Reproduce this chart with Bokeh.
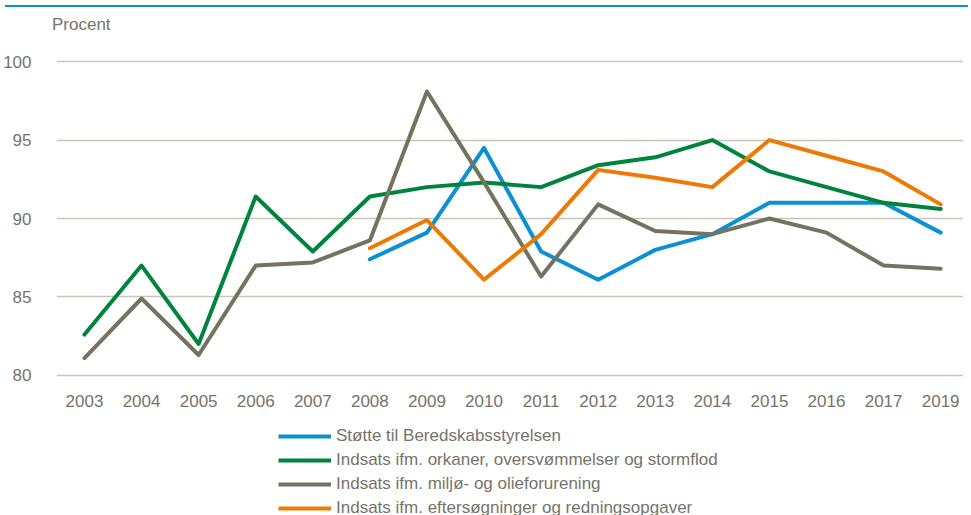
from bokeh.plotting import figure
from bokeh.layouts import column
from bokeh.models import (ColumnDataSource, FixedTicker, Legend, LegendItem,
                          Range1d, Div)
from bokeh.embed import file_html
from bokeh.resources import INLINE

NA = float("nan")

years = ["2003", "2004", "2005", "2006", "2007", "2008", "2009", "2010",
         "2011", "2012", "2013", "2014", "2015", "2016", "2017", "2019"]

stoette = [NA, NA, NA, NA, NA, 87.4, 89.1, 94.5, 87.9, 86.1, 88.0, 89.0,
           91.0, 91.0, 91.0, 89.1]
orkaner = [82.6, 87.0, 82.0, 91.4, 87.9, 91.4, 92.0, 92.3, 92.0, 93.4, 93.9,
           95.0, 93.0, 92.0, 91.0, 90.6]
miljoe = [81.1, 84.9, 81.3, 87.0, 87.2, 88.6, 98.1, 92.3, 86.3, 90.9, 89.2,
          89.0, 90.0, 89.1, 87.0, 86.8]
redning = [NA, NA, NA, NA, NA, 88.1, 89.9, 86.1, 89.0, 93.1, 92.6, 92.0,
           95.0, 94.0, 93.0, 90.9]

series_names = ["Støtte til Beredskabsstyrelsen",
                "Indsats ifm. orkaner, oversvømmelser og stormflod",
                "Indsats ifm. miljø- og olieforurening",
                "Indsats ifm. eftersøgninger og redningsopgaver"]
series_values = [stoette, orkaner, miljoe, redning]
series_colors = ["#0b91d3", "#00843d", "#75725f", "#ee7a05"]

y_ticks = [80, 85, 90, 95, 100]
y_label = "Procent"

TEXT = "#76746a"
FONT = "Liberation Sans"
RULE = "#0b8fd0"

xpos = list(range(len(years)))

# blue rule (top border) and the unit label under it, in one block
header = Div(
    text=('<div style="border-top:2px solid %s;width:963px;box-sizing:border-box;'
          'padding-top:9px;padding-left:47px;'
          "font-family:'Liberation Sans';font-size:17px;line-height:17px;"
          'color:%s;white-space:nowrap">%s</div>') % (RULE, TEXT, y_label),
    width=963, height=26)

p = figure(width=963, height=379, output_backend="svg", toolbar_location=None,
           x_range=Range1d(-0.49, 15.4), y_range=Range1d(79.8, 100.2),
           min_border_left=49, min_border_right=0, min_border_top=22,
           min_border_bottom=37)
p.outline_line_color = None
p.background_fill_color = "white"
p.border_fill_color = "white"

p.xgrid.grid_line_color = None
p.ygrid.grid_line_color = "#c8c6b9"
p.ygrid.grid_line_width = 1.5
p.ygrid.ticker = FixedTicker(ticks=y_ticks)

p.yaxis.ticker = FixedTicker(ticks=y_ticks)
p.yaxis.axis_line_color = None
p.yaxis.major_tick_line_color = None
p.yaxis.minor_tick_line_color = None
p.yaxis.major_label_standoff = 19
p.yaxis.major_label_text_font = FONT
p.yaxis.major_label_text_font_size = "17px"
p.yaxis.major_label_text_color = TEXT

p.xaxis.ticker = FixedTicker(ticks=xpos)
p.xaxis.major_label_overrides = {i: y for i, y in zip(xpos, years)}
p.xaxis.axis_line_color = None
p.xaxis.major_tick_line_color = None
p.xaxis.minor_tick_line_color = None
p.xaxis.major_label_standoff = 10
p.xaxis.major_label_text_font = FONT
p.xaxis.major_label_text_font_size = "17px"
p.xaxis.major_label_text_color = TEXT

for name, vals, col in zip(series_names, series_values, series_colors):
    src = ColumnDataSource(dict(x=xpos, y=vals))
    p.line("x", "y", source=src, line_color=col, line_width=4,
           line_join="round", line_cap="round")

# legend strip below the chart
lf = figure(width=963, height=100, output_backend="svg", toolbar_location=None,
            x_range=Range1d(100, 101), y_range=Range1d(0, 1),
            x_axis_type=None, y_axis_type=None,
            min_border_left=0, min_border_right=0, min_border_top=0,
            min_border_bottom=0)
lf.outline_line_color = None
lf.grid.visible = False
items = []
for name, vals, col in zip(series_names, series_values, series_colors):
    src = ColumnDataSource(dict(x=xpos, y=vals))
    r = lf.line("x", "y", source=src, line_color=col, line_width=4)
    items.append(LegendItem(label=name, renderers=[r]))

legend = Legend(items=items, location=(222, -5), orientation="vertical",
                glyph_width=53, glyph_height=24, label_height=24,
                label_standoff=5, spacing=0, padding=0, margin=0,
                border_line_color=None, background_fill_alpha=0,
                label_text_font=FONT, label_text_font_size="17px",
                label_text_color=TEXT)
lf.add_layout(legend, "center")

layout = column(header, p, lf, spacing=0)
open("out.html", "w").write(file_html(layout, INLINE))
